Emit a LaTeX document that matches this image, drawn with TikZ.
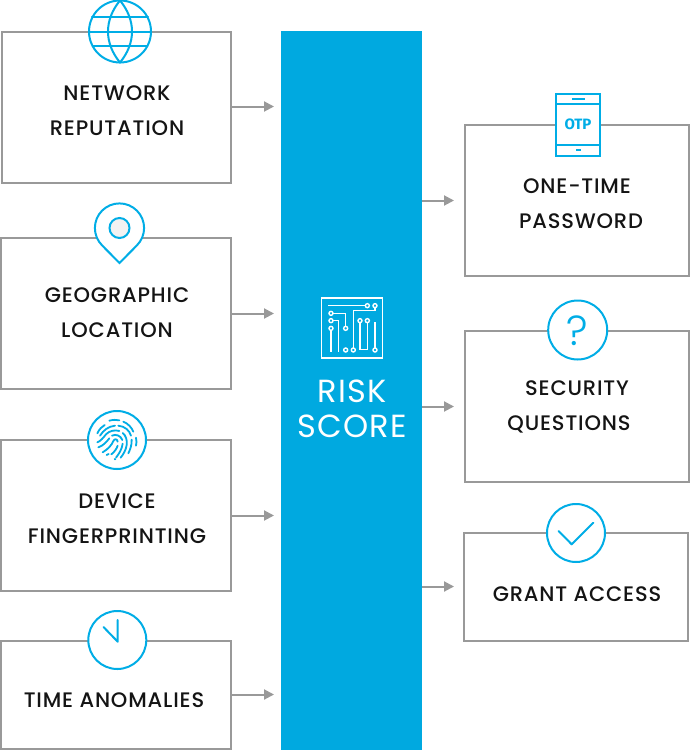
\documentclass[tikz,border=0pt]{standalone}
\usepackage{fontspec}
\setmainfont{Poppins Medium}[LetterSpace=4]
\newfontfamily\riskfont{Poppins}[LetterSpace=4]
\newfontfamily\qfont{Poppins Light}
\newfontfamily\otpfont{Fira Sans}
\usetikzlibrary{arrows.meta}
\definecolor{barblue}{HTML}{00A9E0}
\definecolor{iconblue}{HTML}{00ADE6}
\definecolor{boxgray}{HTML}{999999}
\definecolor{inkblack}{HTML}{141414}
\tikzset{
  x=1pt,y=-1pt,
  boxnode/.style={draw=boxgray,line width=2pt,fill=white,rectangle,inner sep=0pt,outer sep=0pt},
  label/.style={text=inkblack,font=\fontsize{21}{22}\selectfont,inner sep=0pt,anchor=center,text height=14.5pt,text depth=0pt},
  risklabel/.style={text=white,font=\riskfont\fontsize{32}{34}\selectfont,inner sep=0pt,anchor=center,text height=22pt,text depth=0pt},
  arrowline/.style={draw=boxgray,line width=2pt,-{Triangle[length=10pt,width=10pt]}},
  icon/.style={draw=iconblue,line width=2pt,fill=white},
  iconline/.style={draw=iconblue,line width=2pt,line cap=round,line join=round},
  thin line/.style={draw=white,line width=1.6pt},
  pad/.style={draw=white,fill=barblue,line width=1.4pt},
  fp/.style={draw=iconblue,line width=1.8pt,line cap=round}
}
\begin{document}
\begin{tikzpicture}
\useasboundingbox (0,0) rectangle (690,750);
% central bar
\node[rectangle,fill=barblue,inner sep=0pt,outer sep=0pt,minimum width=141pt,minimum height=719pt] (bar) at (351.5,390.5) {};
% boxes
\node[boxnode,minimum width=229.5pt,minimum height=151pt] (boxA) at (116.5,107.5) {};
\node[boxnode,minimum width=230pt,minimum height=151pt] (boxB) at (116,313.5) {};
\node[boxnode,minimum width=230pt,minimum height=151pt] (boxC) at (116,515.5) {};
\node[boxnode,minimum width=230pt,minimum height=108pt] (boxD) at (116,695) {};
\node[boxnode,minimum width=223.5pt,minimum height=151pt] (boxE) at (576.75,200.5) {};
\node[boxnode,minimum width=224pt,minimum height=151pt] (boxF) at (577,406.5) {};
\node[boxnode,minimum width=224pt,minimum height=108pt] (boxG) at (576,587) {};
% arrow ends
\coordinate (endA) at (274,106.5);
\coordinate (endB) at (274,313.5);
\coordinate (endC) at (274,515.5);
\coordinate (endD) at (274,694.5);
\coordinate (endE) at (454,200.5);
\coordinate (endF) at (454,406.5);
\coordinate (endG) at (454,586.5);
\draw[arrowline] (boxA.east |- endA) -- (endA);
\draw[arrowline] (boxB.east |- endB) -- (endB);
\draw[arrowline] (boxC.east |- endC) -- (endC);
\draw[arrowline] (boxD.east |- endD) -- (endD);
\draw[arrowline] (bar.east |- endE) -- (endE);
\draw[arrowline] (bar.east |- endF) -- (endF);
\draw[arrowline] (bar.east |- endG) -- (endG);
% labels
\node[label] (t1) at (117,93.5) {NETWORK};
\node[label] (t2) at (117,128.5) {REPUTATION};
\node[label] (t3) at (117,295.5) {GEOGRAPHIC};
\node[label] (t4) at (117,330.5) {LOCATION};
\node[label] (t5) at (117,501.5) {DEVICE};
\node[label] (t6) at (117,536.5) {FINGERPRINTING};
\node[label] (t7) at (114,700.5) {TIME ANOMALIES};
\node[label] (t8) at (577,186.5) {ONE-TIME};
\node[label] (t9) at (581,221.5) {PASSWORD};
\node[label] (t10) at (577,388.5) {SECURITY};
\node[label] (t11) at (569,423.5) {QUESTIONS};
\node[label] (t12) at (577,594.5) {GRANT ACCESS};
\node[risklabel] (t13) at (352,391) {RISK};
\node[risklabel] (t14) at (352,426) {SCORE};
% globe
\draw[icon] (120,31.5) circle (31);
\draw[iconline] (120,0.5) .. controls (104,20) and (104,43) .. (120,62.5) .. controls (136,43) and (136,20) .. (120,0.5);
\draw[iconline] (92,17) -- (148,17) (89,32) -- (151,32) (93,46) -- (147,46);
% pin
\draw[icon,line join=miter] (119.5,263) -- (102.1,245.4) arc (135:405:24.6) -- cycle;
\draw[draw=iconblue,line width=2pt,fill=black!5] (119.5,228) circle (10);
% fingerprint
\draw[icon] (117,440) circle (29);
\begin{scope}[shift={(80,405)},x=0.3333pt,y=-0.3333pt]
\draw[fp] (52,85) .. controls (58,72) and (65,66) .. (74,60);
\draw[fp] (88,47) .. controls (100,44) and (108,44) .. (118,46);
\draw[fp] (130,50) .. controls (145,56) and (155,68) .. (160,80);
\draw[fp] (168,98) .. controls (170,108) and (170,115) .. (168,122);
\draw[fp] (60,92) .. controls (70,76) and (85,64) .. (105,62);
\draw[fp] (115,62) .. controls (135,64) and (148,76) .. (153,92);
\draw[fp] (155,104) .. controls (156,120) and (150,135) .. (145,145);
\draw[fp] (52,112) .. controls (62,108) and (70,98) .. (78,88) .. controls (88,77) and (105,74) .. (118,78);
\draw[fp] (128,84) .. controls (138,92) and (142,105) .. (140,120) .. controls (138,135) and (130,148) .. (122,158);
\draw[fp] (55,127) .. controls (70,122) and (80,110) .. (88,100);
\draw[fp] (96,92) .. controls (108,86) and (122,92) .. (127,105);
\draw[fp] (128,116) .. controls (126,132) and (118,145) .. (108,158);
\draw[fp] (68,142) .. controls (85,132) and (95,120) .. (100,108) .. controls (104,100) and (112,102) .. (113,110);
\draw[fp] (113,122) .. controls (110,132) and (102,142) .. (94,148);
\draw[fp] (80,150) -- (86,147);
\draw[fp] (104,162) -- (106,163);
\end{scope}
% clock
\draw[icon] (117.3,640) circle (29);
\draw[iconline] (117.7,620) -- (117.7,641.7) -- (103.5,627);
% circuit icon
\node[rectangle,draw=white,line width=1.6pt,inner sep=0pt,minimum width=61pt,minimum height=60pt] (chip) at (352,328) {};
\begin{scope}[shift={(310,290)},x=0.3333pt,y=-0.3333pt]
\draw[thin line] (55,47) -- (172,47);
\draw[thin line] (195,47) -- (195,62) -- (130,62) -- (130,180);
\draw[thin line] (63,70) -- (107,70) -- (107,115);
\draw[thin line] (63,92) -- (85,92) -- (85,185);
\draw[thin line] (63,115) -- (63,185);
\draw[thin line] (150,92) -- (150,178) -- (172,178) -- (172,92);
\draw[thin line] (195,180) -- (195,95);
\foreach \p in {(172,47),(195,47),(63,70),(63,92),(63,115),(107,115),(107,180),(130,180),(150,92),(172,92),(195,180)}
  \draw[pad] \p circle[radius=2pt];
\end{scope}
% OTP phone
\node[rectangle,draw=iconblue,line width=2pt,fill=white,inner sep=0pt,minimum width=44pt,minimum height=62pt] (phone) at (578.2,124.7) {};
\draw[iconline,line cap=butt] (phone.west |- 0,104.3) -- (phone.east |- 0,104.3);
\draw[iconline,line cap=butt] (phone.west |- 0,145) -- (phone.east |- 0,145);
\draw[iconline,line cap=butt] (572,99) -- (585,99);
\draw[iconline,line cap=butt] (576,150) -- (581,150);
\node[inner sep=0pt,text=iconblue,font=\otpfont\bfseries\fontsize{15}{16}\selectfont] (otp) at (578,124.5) {OTP};
% question
\draw[icon] (577.7,330) circle (29.5);
\node[inner sep=0pt,text=iconblue,font=\qfont\fontsize{42}{44}\selectfont] (qm) at (577.5,331) {?};
% check
\draw[icon] (576,533) circle (29);
\draw[iconline] (558.5,531) -- (571.7,544.3) -- (593.3,522.7);
\end{tikzpicture}
\end{document}
